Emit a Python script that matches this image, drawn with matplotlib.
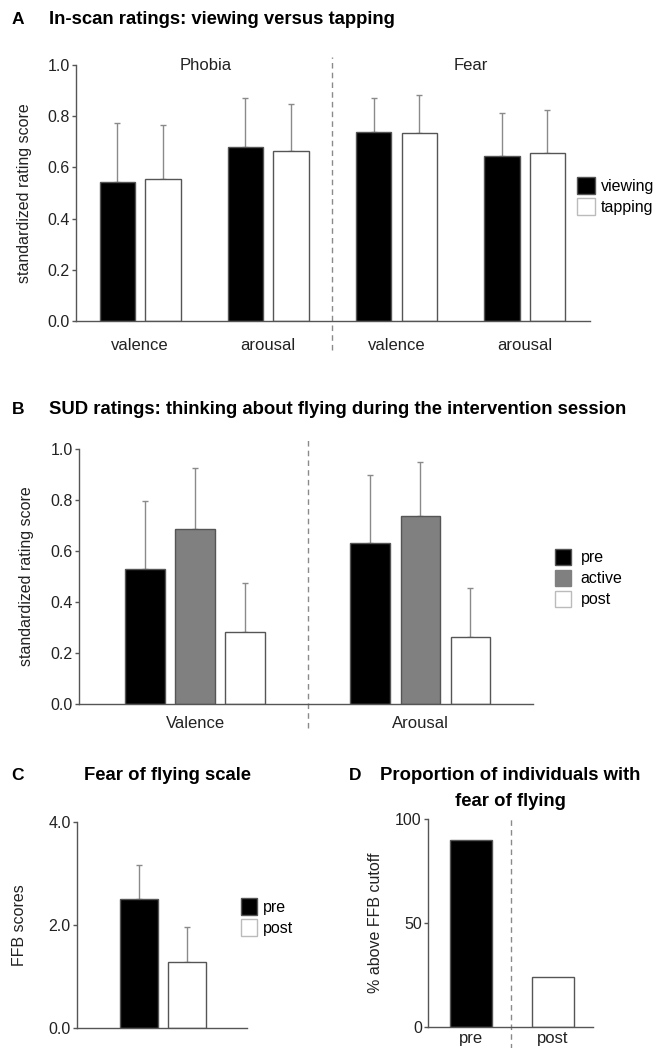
import matplotlib
matplotlib.use('Agg')
import matplotlib.pyplot as plt
import numpy as np
from matplotlib.patches import Patch

# ---- data ----
a_groups = ['valence', 'arousal', 'valence', 'arousal']
a_viewing = [0.544, 0.681, 0.739, 0.645]
a_viewing_err = [0.229, 0.189, 0.131, 0.166]
a_tapping = [0.556, 0.664, 0.735, 0.657]
a_tapping_err = [0.208, 0.184, 0.147, 0.166]

b_groups = ['Valence', 'Arousal']
b_pre = [0.530, 0.633]
b_pre_err = [0.266, 0.267]
b_active = [0.686, 0.736]
b_active_err = [0.239, 0.213]
b_post = [0.282, 0.263]
b_post_err = [0.193, 0.193]

c_labels = ['pre', 'post']
c_scores = [2.50, 1.28]
c_err = [0.66, 0.68]

d_labels = ['pre', 'post']
d_percent = [90.0, 24.0]

W, H = 656, 1048
NARROW = ['Liberation Sans Narrow', 'Liberation Sans', 'DejaVu Sans']
REG = ['Liberation Sans', 'DejaVu Sans']
SPINE = '#555555'
ERR = '#8a8a8a'
TXT = '#222222'

plt.rcParams['font.family'] = REG

fig = plt.figure(figsize=(W / 100, H / 100), dpi=100, facecolor='white')


def px_axes(left, right, top, bottom):
    ax = fig.add_axes([left / W, 1 - bottom / H, (right - left) / W, (bottom - top) / H])
    ax._px = (left, right, top, bottom)
    return ax


def style(ax):
    for s in ['top', 'right']:
        ax.spines[s].set_visible(False)
    for s in ['left', 'bottom']:
        ax.spines[s].set_color(SPINE)
        ax.spines[s].set_linewidth(1.0)
    ax.tick_params(axis='y', length=3, width=1, color=SPINE, pad=1.5, labelsize=11.5,
                   labelcolor=TXT)
    ax.tick_params(axis='x', length=0, labelsize=12, labelcolor=TXT)
    for lab in ax.get_yticklabels() + ax.get_xticklabels():
        lab.set_family(NARROW)


def ylabel(ax, text, xpx):
    left, right, top, bottom = ax._px
    ax.set_ylabel(text, fontsize=11.5, color=TXT)
    ax.yaxis.set_label_coords((xpx - left) / (right - left), 0.5)


def bars(ax, x, vals, err, color, width):
    ax.bar(x, vals, width, color=color, edgecolor=SPINE, linewidth=1.0, zorder=2)
    if err is not None:
        ax.errorbar(x, vals, yerr=[np.zeros(len(vals)), err], fmt='none', ecolor=ERR,
                    elinewidth=1.0, capsize=2.5, capthick=1.0, zorder=1)


def title(x_letter, x_text, y, letter, text, ha='left'):
    fig.text(x_letter / W, 1 - y / H, letter, fontsize=12.5, fontweight='bold',
             family=REG, ha='center', va='center')
    fig.text(x_text / W, 1 - y / H, text, fontsize=13.3, fontweight='bold',
             family=NARROW, ha=ha, va='center')


# ---- panel A ----
axA = px_axes(76, 590, 65, 321)
x = np.arange(len(a_groups))
bars(axA, x - 0.178, a_viewing, a_viewing_err, 'black', 0.276)
bars(axA, x + 0.178, a_tapping, a_tapping_err, 'white', 0.276)
axA.set_xlim(-0.5, 3.51)
axA.set_ylim(0, 1)
axA.set_yticks([0, 0.2, 0.4, 0.6, 0.8, 1.0])
axA.set_yticklabels(['0.0', '0.2', '0.4', '0.6', '0.8', '1.0'])
axA.set_xticks(x)
axA.set_xticklabels(a_groups)
axA.tick_params(axis='x', pad=12)
style(axA)
axA.spines['left'].set_bounds(0, 1)
axA.axvline(1.5, ymin=-0.113, ymax=1.031, color=ERR, ls=(0, (4, 3)), lw=1, clip_on=False)
axA.text(0.51, 1.0, 'Phobia', ha='center', va='center', fontsize=12, family=NARROW, color=TXT)
axA.text(2.58, 1.0, 'Fear', ha='center', va='center', fontsize=12, family=NARROW, color=TXT)
ylabel(axA, 'standardized rating score', 32)
axA.legend(handles=[Patch(facecolor='black', edgecolor=SPINE, label='viewing'),
                    Patch(facecolor='white', edgecolor='#bbbbbb', label='tapping')],
           loc='center left', bbox_to_anchor=(577 / W, 1 - 196 / H),
           bbox_transform=fig.transFigure, frameon=False, handlelength=1.15,
           handleheight=1.3, handletextpad=0.35, labelspacing=0.25,
           prop={'family': NARROW, 'size': 11.5}, borderaxespad=0, borderpad=0)
title(18, 49, 19, 'A', 'In-scan ratings: viewing versus tapping')

# ---- panel B ----
axB = px_axes(79, 533, 449, 704)
xb = np.arange(len(b_groups))
bars(axB, xb - 0.2225, b_pre, b_pre_err, 'black', 0.175)
bars(axB, xb, b_active, b_active_err, '#808080', 0.175)
bars(axB, xb + 0.2225, b_post, b_post_err, 'white', 0.175)
axB.set_xlim(-0.515, 1.5)
axB.set_ylim(0, 1)
axB.set_yticks([0, 0.2, 0.4, 0.6, 0.8, 1.0])
axB.set_yticklabels(['0.0', '0.2', '0.4', '0.6', '0.8', '1.0'])
axB.set_xticks(xb)
axB.set_xticklabels(b_groups)
axB.tick_params(axis='x', pad=9)
style(axB)
axB.axvline(0.5, ymin=-0.094, ymax=1.039, color=ERR, ls=(0, (4, 3)), lw=1, clip_on=False)
ylabel(axB, 'standardized rating score', 34)
axB.legend(handles=[Patch(facecolor='black', edgecolor=SPINE, label='pre'),
                    Patch(facecolor='#808080', edgecolor='#808080', label='active'),
                    Patch(facecolor='white', edgecolor='#bbbbbb', label='post')],
           loc='center left', bbox_to_anchor=(555 / W, 1 - 578 / H),
           bbox_transform=fig.transFigure, frameon=False, handlelength=1.0,
           handleheight=1.2, handletextpad=0.6, labelspacing=0.28,
           prop={'family': NARROW, 'size': 11.5}, borderaxespad=0, borderpad=0)
title(18, 49, 410, 'B', 'SUD ratings: thinking about flying during the intervention session')

# ---- panel C ----
axC = px_axes(77, 247, 822, 1028)
xc = np.array([0.0, 1.0])
bars(axC, xc[:1], c_scores[:1], c_err[:1], 'black', 0.79)
bars(axC, xc[1:], c_scores[1:], c_err[1:], 'white', 0.79)
axC.set_xlim(-1.29, 2.25)
axC.set_ylim(0, 4)
axC.set_yticks([0, 2, 4])
axC.set_yticklabels(['0.0', '2.0', '4.0'])
axC.set_xticks([])
style(axC)
ylabel(axC, 'FFB scores', 27)
axC.legend(handles=[Patch(facecolor='black', edgecolor=SPINE, label=c_labels[0]),
                    Patch(facecolor='white', edgecolor='#bbbbbb', label=c_labels[1])],
           loc='center left', bbox_to_anchor=(241 / W, 1 - 917 / H),
           bbox_transform=fig.transFigure, frameon=False, handlelength=1.0,
           handleheight=1.25, handletextpad=0.4, labelspacing=0.25,
           prop={'family': NARROW, 'size': 11.5}, borderaxespad=0, borderpad=0)
title(18, 167, 775, 'C', 'Fear of flying scale', ha='center')

# ---- panel D ----
axD = px_axes(428, 593, 819, 1027)
xd = np.arange(len(d_labels))
bars(axD, xd[:1], d_percent[:1], None, 'black', 0.51)
bars(axD, xd[1:], d_percent[1:], None, 'white', 0.51)
axD.set_xlim(-0.52, 1.49)
axD.set_ylim(0, 100)
axD.set_yticks([0, 50, 100])
axD.set_xticks(xd)
axD.set_xticklabels(d_labels)
axD.tick_params(axis='x', pad=3)
style(axD)
axD.axvline(0.49, ymin=-0.11, ymax=1.005, color=ERR, ls=(0, (4, 3)), lw=1, clip_on=False)
ylabel(axD, '% above FFB cutoff', 383)
title(355, 510, 775, 'D', 'Proportion of individuals with', ha='center')
fig.text(510 / W, 1 - 802 / H, 'fear of flying', fontsize=13.3, fontweight='bold',
         family=NARROW, ha='center', va='center')

fig.savefig('out.png', dpi=100, facecolor='white')
